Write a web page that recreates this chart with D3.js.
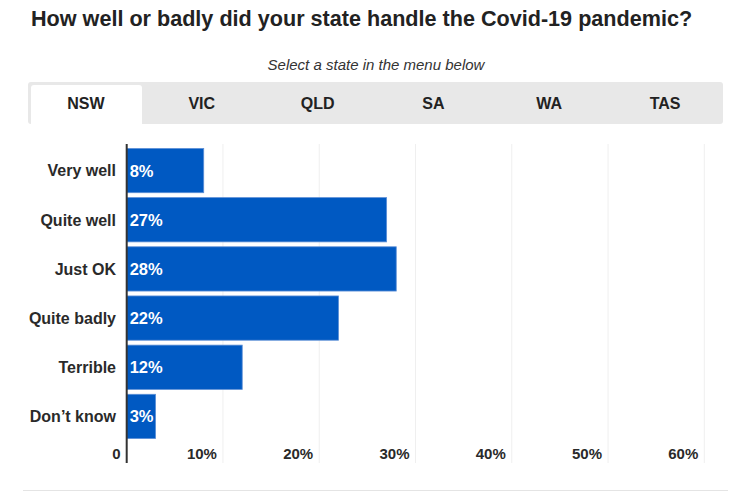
<!DOCTYPE html>
<html>
<head>
<meta charset="utf-8">
<script src="https://cdn.jsdelivr.net/npm/d3@7"></script>
<style>
  body { margin: 0; background: #fff; }
  svg { display: block; font-family: "Liberation Sans", Arial, sans-serif; }
</style>
</head>
<body>
<div id="chart"></div>
<script>
"use strict";

var title = "How well or badly did your state handle the Covid-19 pandemic?";
var subtitle = "Select a state in the menu below";
var states = ["NSW", "VIC", "QLD", "SA", "WA", "TAS"];
var answers = ["Very well", "Quite well", "Just OK", "Quite badly", "Terrible", "Don\u2019t know"];
var nswValues = [8, 27, 28, 22, 12, 3];
var ticks = [0, 10, 20, 30, 40, 50, 60];

var width = 742, height = 492;

var svg = d3.select("#chart")
    .append("svg")
    .attr("width", width)
    .attr("height", height);

//title + subtitle
svg.append("text")
    .attr("x", 31)
    .attr("y", 26)
    .attr("font-size", "21.6px")
    .attr("font-weight", "bold")
    .attr("fill", "#222")
    .text(title);

svg.append("text")
    .attr("x", 376)
    .attr("y", 70)
    .attr("text-anchor", "middle")
    .attr("font-size", "15px")
    .attr("font-style", "italic")
    .attr("fill", "#333")
    .text(subtitle);

//tabs
var tabX = d3.scaleBand().domain(states).range([28, 723]);

svg.append("rect")
    .attr("x", 28)
    .attr("y", 82)
    .attr("width", 695)
    .attr("height", 42)
    .attr("rx", 3)
    .attr("fill", "#e8e8e8");

svg.append("path")
    .attr("d", function() {
      var x0 = 31, x1 = 142, y0 = 85, y1 = 124, r = 3;
      return "M" + x0 + "," + y1 + "V" + (y0 + r) + "Q" + x0 + "," + y0 + " " + (x0 + r) + "," + y0 +
             "H" + (x1 - r) + "Q" + x1 + "," + y0 + " " + x1 + "," + (y0 + r) + "V" + y1 + "Z";
    })
    .attr("fill", "#fff");

svg.append("g")
  .selectAll("text")
  .data(states)
  .enter()
  .append("text")
    .attr("x", function(d) { return tabX(d) + tabX.bandwidth() / 2; })
    .attr("y", 108.5)
    .attr("text-anchor", "middle")
    .attr("font-size", "16px")
    .attr("font-weight", "bold")
    .attr("fill", "#222")
    .text(function(d) { return d; });

//scales
var x = d3.scaleLinear().domain([0, 60]).range([126.7, 704.3]);
var y = d3.scaleBand().domain(answers).range([146, 441]).paddingInner(0.1).paddingOuter(0.05);

//grid
svg.append("g")
  .selectAll("line")
  .data(ticks.slice(1))
  .enter()
  .append("line")
    .attr("x1", function(d) { return x(d); })
    .attr("x2", function(d) { return x(d); })
    .attr("y1", 144)
    .attr("y2", 463)
    .attr("stroke", "#efefef")
    .attr("stroke-width", 1);

//bars
var bars = svg.append("g")
  .selectAll("g")
  .data(answers)
  .enter()
  .append("g");

bars.append("rect")
    .attr("x", x(0))
    .attr("y", function(d) { return y(d); })
    .attr("width", function(d, i) { return x(nswValues[i]) - x(0); })
    .attr("height", y.bandwidth())
    .attr("fill", "#0059c2")
    .attr("stroke", "#5c8fd6")
    .attr("stroke-width", 0.8);

bars.append("text")
    .attr("x", x(0) + 3)
    .attr("y", function(d) { return y(d) + y.bandwidth() / 2; })
    .attr("dy", "0.36em")
    .attr("font-size", "16.5px")
    .attr("font-weight", "bold")
    .attr("fill", "#fff")
    .text(function(d, i) { return nswValues[i] + "%"; });

//category labels
svg.append("g")
  .selectAll("text")
  .data(answers)
  .enter()
  .append("text")
    .attr("x", 116)
    .attr("y", function(d) { return y(d) + y.bandwidth() / 2; })
    .attr("dy", "0.36em")
    .attr("text-anchor", "end")
    .attr("font-size", "16px")
    .attr("font-weight", "bold")
    .attr("fill", "#2a2a2a")
    .text(function(d) { return d; });

//tick labels
svg.append("g")
  .selectAll("text")
  .data(ticks)
  .enter()
  .append("text")
    .attr("x", function(d) { return x(d) - 6; })
    .attr("y", 458.5)
    .attr("text-anchor", "end")
    .attr("font-size", "15px")
    .attr("font-weight", "bold")
    .attr("fill", "#2a2a2a")
    .text(function(d) { return d === 0 ? "0" : d + "%"; });

//axis line
svg.append("line")
    .attr("x1", x(0))
    .attr("x2", x(0))
    .attr("y1", 144)
    .attr("y2", 463)
    .attr("stroke", "#333")
    .attr("stroke-width", 2);

//bottom rule
svg.append("line")
    .attr("x1", 23)
    .attr("x2", 728)
    .attr("y1", 490.5)
    .attr("y2", 490.5)
    .attr("stroke", "#e4e4e4")
    .attr("stroke-width", 1);
</script>
</body>
</html>
